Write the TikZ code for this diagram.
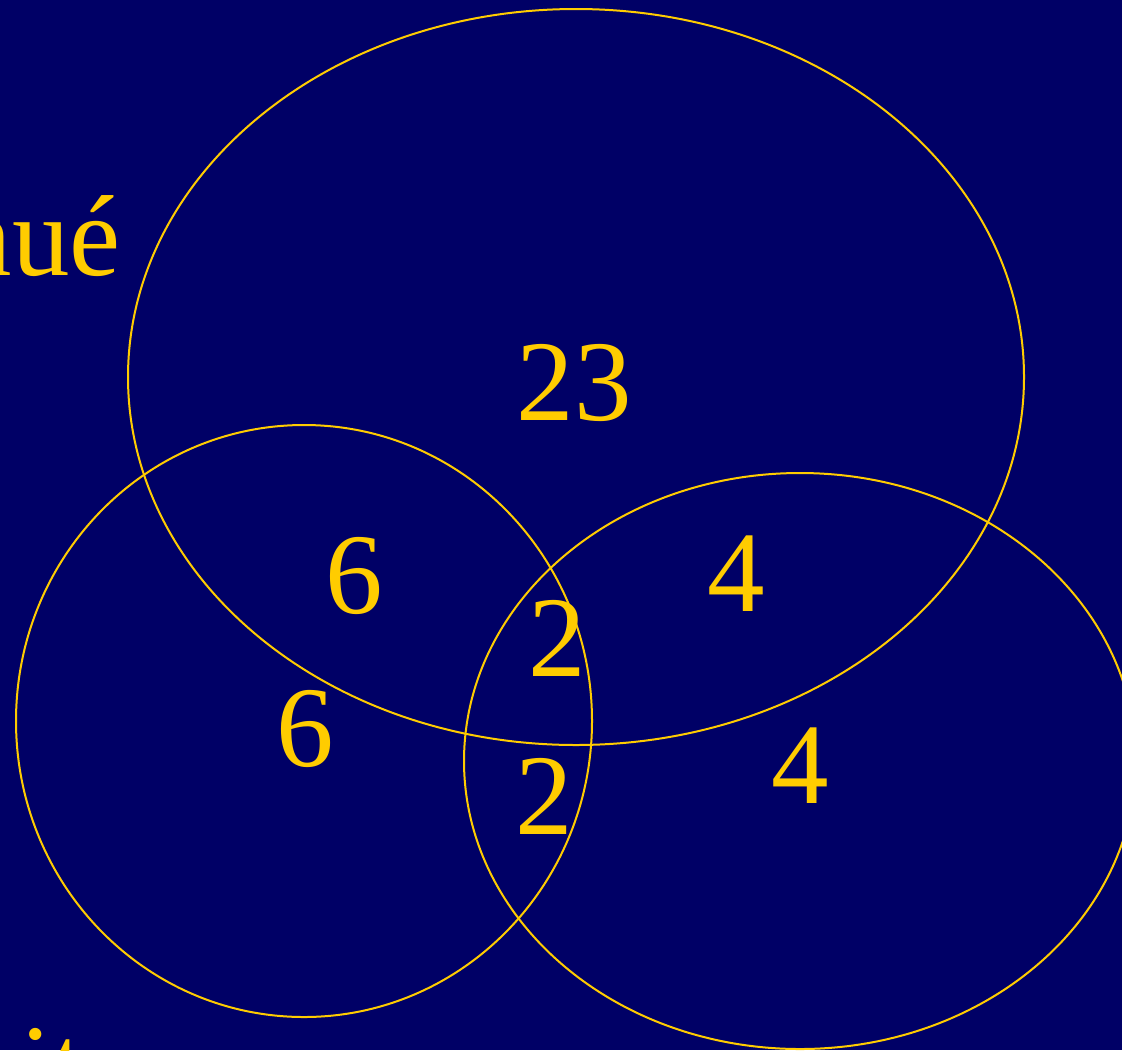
\documentclass[tikz,border=0pt]{standalone}
\usepackage{fontspec}
\setmainfont{Liberation Serif}
\definecolor{SlideBlue}{HTML}{000066}
\definecolor{SlideGold}{HTML}{FFCC00}

\begin{document}
\begin{tikzpicture}[x=0.5pt, y=-0.5pt,
        setline/.style={draw=SlideGold, line width=1pt},
        count/.style={text=SlideGold, font=\fontsize{57.5}{57.5}\selectfont, anchor=base, inner sep=0pt}
    ]
        \fill[SlideBlue] (0,0) rectangle (1122,1050);
        \useasboundingbox (0,0) rectangle (1122,1050);
        \clip (0,0) rectangle (1122,1050);

        % the three sets
        \draw[setline] (576,377) ellipse [x radius=448, y radius=368];
        \draw[setline] (304,721) ellipse [x radius=288, y radius=296];
        \draw[setline] (800,761) ellipse [x radius=336, y radius=288];

        % counts
        \node[count] (top)      at (574,420) {23};
        \node[count] (topleft)  at (354,613) {6};
        \node[count] (topright) at (736,611) {4};
        \node[count] (mid)      at (557,676) {2};
        \node[count] (left)     at (305,766) {6};
        \node[count] (low)      at (544,834) {2};
        \node[count] (right)    at (800,803) {4};

        % cut-off slide text
        \node[count, anchor=base east] (title) at (121,275) {nué};
        \node[count, anchor=base west] (foot)  at (20,1104) {it};
    \end{tikzpicture}
\end{document}
